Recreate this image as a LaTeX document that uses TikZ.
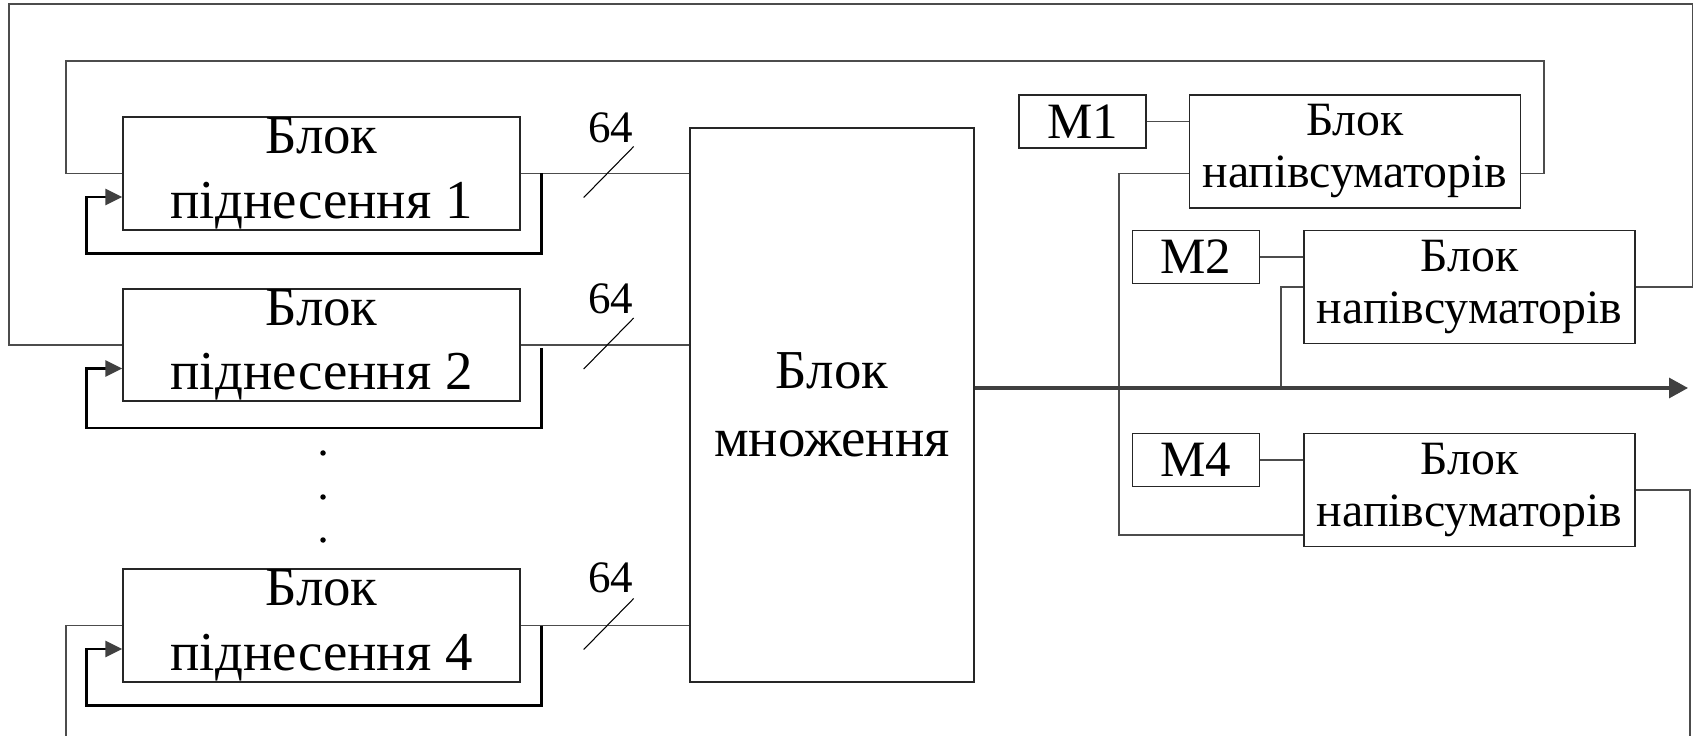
\documentclass[tikz,border=0pt]{standalone}
\usepackage{fontspec}
\setmainfont{Liberation Serif}
\usetikzlibrary{positioning, arrows.meta, calc}

\begin{document}
\begin{tikzpicture}[
    blk/.style={draw=black!85, line width=0.4pt, rectangle, align=center, inner sep=0pt, font=\fontsize{15.6}{18.3}\selectfont},
    hsum/.style={blk, minimum width=3.31cm, minimum height=1.13cm, font=\fontsize{13.6}{14.8}\selectfont},
    mem/.style={blk, minimum width=1.27cm, minimum height=0.53cm, font=\fontsize{14.5}{16}\selectfont},
    dotn/.style={circle, fill=black, inner sep=0pt, minimum size=0.055cm},
    lbl/.style={inner sep=0pt, font=\fontsize{12.8}{14}\selectfont},
    wire/.style={draw=black!70, line width=0.45pt},
    slash/.style={draw=black, line width=0.3pt},
    fb/.style={draw=black, line width=0.75pt, -{Triangle[length=0.17cm, width=0.16cm, color=black!75]}},
    bus/.style={draw=black!75, line width=0.9pt, -{Triangle[length=0.19cm, width=0.2cm]}}
]
\useasboundingbox (0,0) rectangle (16.98,7.36);

% Raising blocks
\node (rb1) at (3.215, 5.625) [blk, minimum width=3.97cm, minimum height=1.13cm] {Блок\\піднесення 1};
\node (rb2) at (3.215, 3.91) [blk, minimum width=3.97cm, minimum height=1.12cm] {Блок\\піднесення 2};
\node (rb4) at (3.215, 1.105) [blk, minimum width=3.97cm, minimum height=1.13cm] {Блок\\піднесення 4};
\node (d1) at (3.23, 2.83) [dotn] {};
\node (d2) at (3.23, 2.39) [dotn] {};
\node (d3) at (3.23, 1.96) [dotn] {};

% Multiplier
\node (mul) at (8.32, 3.31) [blk, minimum width=2.84cm, minimum height=5.54cm, font=\fontsize{15.6}{19.4}\selectfont] {Блок\\множення};

% Half-adder side
\node (m1) at (10.825, 6.145) [mem] {M1};
\node (hs1) [hsum, right=0.42cm of m1.north east, anchor=north west] {Блок\\напівсуматорів};
\node (m2) at (11.96, 4.79) [mem] {M2};
\node (hs2) [hsum, right=0.43cm of m2.north east, anchor=north west] {Блок\\напівсуматорів};
\node (m4) at (11.96, 2.76) [mem] {M4};
\node (hs4) [hsum, right=0.43cm of m4.north east, anchor=north west] {Блок\\напівсуматорів};
\draw[wire] (m1.east) -- (m1.east -| hs1.west);
\draw[wire] (m2.east) -- (m2.east -| hs2.west);
\draw[wire] (m4.east) -- (m4.east -| hs4.west);

% 64-bit outputs
\draw[wire] (rb1.east) -- (rb1.east -| mul.west);
\draw[wire] (rb2.east) -- (rb2.east -| mul.west);
\draw[wire] (rb4.east) -- (rb4.east -| mul.west);
\draw[slash] ($(rb1.east)+(0.63,-0.24)$) -- ++(0.5,0.51);
\draw[slash] ($(rb2.east)+(0.63,-0.24)$) -- ++(0.5,0.51);
\draw[slash] ($(rb4.east)+(0.63,-0.24)$) -- ++(0.5,0.51);
\node (n1) at ($(rb1.east)+(0.90,0.46)$) [lbl] {64};
\node (n2) at ($(rb2.east)+(0.90,0.46)$) [lbl] {64};
\node (n4) at ($(rb4.east)+(0.90,0.48)$) [lbl] {64};

% self feedback
\draw[fb] ($(rb1.east)+(0.21,0)$) -- ++(0,-0.80) -| ($(rb1.west)+(-0.36,-0.235)$) -- ($(rb1.west)+(0,-0.235)$);
\draw[fb] ($(rb2.east)+(0.21,-0.03)$) -- ++(0,-0.80) -| ($(rb2.west)+(-0.36,-0.235)$) -- ($(rb2.west)+(0,-0.235)$);
\draw[fb] ($(rb4.east)+(0.21,0)$) -- ++(0,-0.80) -| ($(rb4.west)+(-0.36,-0.235)$) -- ($(rb4.west)+(0,-0.235)$);

% feedback from half adders
\draw[wire] (hs1.east |- rb1.west) -- ++(0.23,0) |- (0.66,6.75) |- (rb1.west);
\draw[wire] (hs2.east) -- ++(0.57,0) |- (0.09,7.32) |- (rb2.west);
\draw[wire] (hs4.east) -| (16.90,0);
\draw[wire] (rb4.west) -| (0.66,0);

% product bus
\coordinate (out) at (16.88, 3.48);
\coordinate (hs4in) at ($(hs4.south west)+(0,0.12)$);
\draw[wire] (hs1.west |- rb1.west) -- ++(-0.70,0) |- (hs4in);
\draw[wire] (hs2.west) -- ++(-0.22,0) coordinate (k2) -- (k2 |- out);
\draw[bus] (mul.east |- out) -- (out);
\end{tikzpicture}
\end{document}
